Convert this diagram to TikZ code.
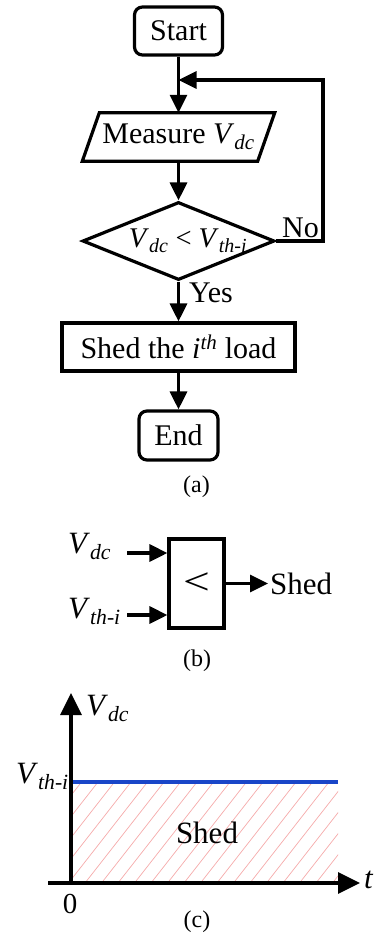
\documentclass[tikz,border=0pt]{standalone}
\usepackage{fontspec}
\setmainfont{Liberation Serif}
\usepackage{graphicx}
\usetikzlibrary{arrows.meta,shapes.geometric}
\newcommand\Vsb[1]{\textit{V}\textsubscript{\textit{#1}}}
\definecolor{lineblue}{RGB}{25,70,200}
\definecolor{hatchred}{RGB}{245,170,170}
\begin{document}
\begin{tikzpicture}[x=1pt,y=-1pt,
  font=\fontsize{30}{35}\selectfont,
  lw/.style={line width=3.2pt},
  arr/.style={lw,-{Triangle[length=18pt,width=17pt]}},
  bigarr/.style={lw,-{Triangle[length=22pt,width=21pt]}},
  termbox/.style={draw,lw,rounded corners=8pt,inner sep=0pt},
  procbox/.style={draw,lw,inner sep=0pt},
  lbl/.style={inner sep=0pt},
  bigtxt/.style={font=\fontsize{31}{36}\selectfont},
  captxt/.style={font=\fontsize{24}{28}\selectfont,inner sep=0pt}]
\useasboundingbox (0,0) rectangle (373,943);

% ---------- (a) flowchart ----------
\node[termbox,minimum width=88pt,minimum height=48pt] (start) at (178.5,31) {Start};
\coordinate (J) at (178.5,80);
\node[inner sep=0pt,minimum width=175pt,minimum height=48pt] (meas) at (178.5,137) {Measure \Vsb{dc}};
\draw[lw] ([xshift=-8.5pt]meas.south west) -- ([xshift=8.5pt]meas.north west) -- ([xshift=8.5pt]meas.north east) -- ([xshift=-8.5pt]meas.south east) -- cycle;
\node[diamond,draw,lw,aspect=2.46,minimum width=192pt,minimum height=78pt,inner sep=0pt,font=\fontsize{28.5}{33}\selectfont] (dec) at (178.5,241) {\makebox[0pt]{\hspace{19pt}\Vsb{dc} < \Vsb{th-i}}};
\node[procbox,minimum width=233pt,minimum height=48pt] (shed) at (178.5,347) {Shed the \textit{i}\textsuperscript{\textit{th}} load};
\node[termbox,minimum width=79pt,minimum height=49pt] (end) at (178.5,435.5) {End};
\coordinate (R) at (323,80);
\draw[lw] (start.south) -- (J);
\draw[arr] (J) -- (meas.north);
\draw[arr] (meas.south) -- (dec.north);
\draw[arr] (dec.east) -| (R) -- (J);
\draw[arr] (dec.south) -- (shed.north);
\draw[arr] (shed.south) -- (end.north);
\node[lbl,anchor=base west] (no) at (282,237) {No};
\node[lbl,anchor=base west] (yes) at (189,302) {Yes};
\node[captxt] (capa) at (196.5,486.5) {(a)};

% ---------- (b) comparator ----------
\node[procbox,minimum width=55pt,minimum height=89pt] (comp) at (196.5,583.5) {\scalebox{1.25}[1]{\fontsize{38}{38}\selectfont <}};
\node[lbl,bigtxt,anchor=base west] (vdcb) at (68,553) {\Vsb{dc}};
\node[lbl,bigtxt,anchor=base west] (vthb) at (68,618) {\Vsb{th-i}};
\coordinate (ib1) at (127,553);
\coordinate (ib2) at (127,615);
\draw[arr] (ib1) -- (ib1 -| comp.west);
\draw[arr] (ib2) -- (ib2 -| comp.west);
\node[bigtxt,anchor=west,inner sep=2pt] (shedb) at (268,583.5) {Shed};
\draw[arr] (comp.east) -- (shedb.west);
\node[captxt] (capb) at (197,661) {(b)};

% ---------- (c) plot ----------
\coordinate (O) at (71,883);
\coordinate (ytop) at (71,693);
\coordinate (xl) at (48,883);
\coordinate (xr) at (360,883);
\coordinate (thl) at (71,782);
\coordinate (thr) at (338,782);
\begin{scope}
  \clip (71,782) rectangle (338,883);
  \foreach \k in {-6,...,17} \draw[hatchred,line width=0.7pt] (85+16.5*\k,883) -- ++(79,-101);
\end{scope}
\draw[line width=3.4pt,lineblue] (thl) -- (thr);
\draw[bigarr] (O) -- (ytop);
\draw[bigarr] (xl) -- (xr);
\node[lbl,bigtxt,anchor=base west] (vdcc) at (86,715) {\Vsb{dc}};
\node[lbl,bigtxt,anchor=base west] (vthc) at (16,783) {\Vsb{th-i}};
\node[lbl,font=\fontsize{29}{34}\selectfont,anchor=base] (zero) at (70,913) {0};
\node[lbl,bigtxt,anchor=base west] (tl) at (364,888) {\textit{t}};
\node[lbl,bigtxt,anchor=base] (shedc) at (207,843) {Shed};
\node[captxt] (capc) at (197,922) {(c)};
\end{tikzpicture}
\end{document}
